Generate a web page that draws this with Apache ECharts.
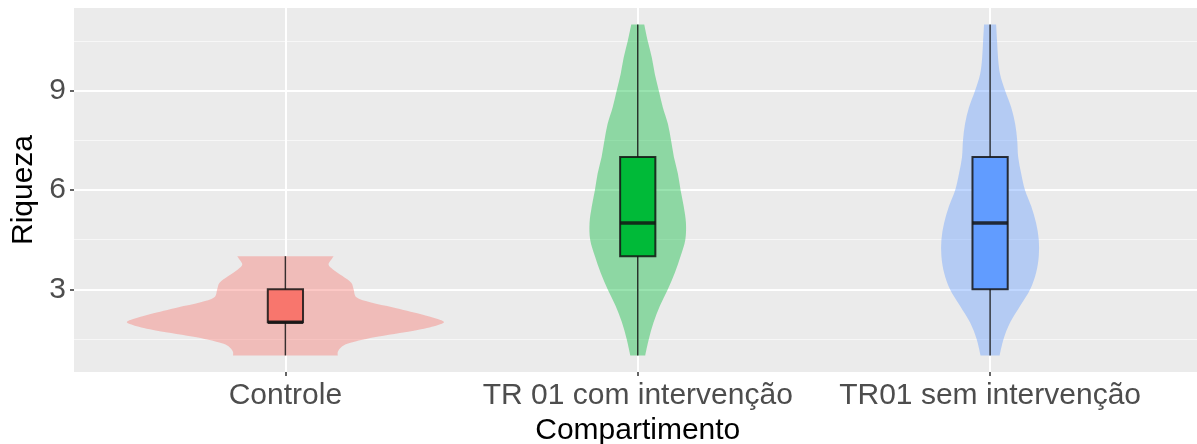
<!DOCTYPE html>
<html>
<head>
<meta charset="utf-8">
<script src="https://cdn.jsdelivr.net/npm/echarts@6/dist/echarts.min.js"></script>
<style>
  html, body { margin: 0; padding: 0; background: #ffffff; }
  #chart { width: 1197px; height: 444px; }
</style>
</head>
<body>
<div id="chart"></div>
<script>
// Groups along the x axis
const categories = ['Controle', 'TR 01 com intervenção', 'TR01 sem intervenção'];
const groupColors = ['#F8766D', '#00BA38', '#619CFF'];

// Box summaries: [min, Q1, median, Q3, max]
const boxControle = [1, 2, 2, 3, 4];
const boxCom = [1, 4, 5, 7, 11];
const boxSem = [1, 3, 5, 7, 11];

// Violin outlines: Riqueza levels and relative half-widths (widest violin = 1)
const violinControleY = [1.0, 1.15, 1.35, 1.55, 1.75, 1.9, 2.0, 2.1, 2.25, 2.45, 2.6, 2.75, 3.0, 3.2, 3.4, 3.6, 3.75, 3.9, 4.0];
const violinControleW = [0.33, 0.335, 0.39, 0.56, 0.81, 0.95, 1.0, 0.96, 0.85, 0.68, 0.54, 0.45, 0.43, 0.415, 0.36, 0.30, 0.272, 0.29, 0.304];

const violinComY = [1.0, 1.5, 2.0, 2.5, 3.0, 3.5, 4.0, 4.5, 5.0, 5.5, 6.0, 6.5, 7.0, 7.5, 8.0, 8.5, 9.0, 9.5, 10.0, 10.5, 11.0];
const violinComW = [0.047, 0.07, 0.10, 0.14, 0.19, 0.234, 0.27, 0.30, 0.304, 0.29, 0.27, 0.253, 0.228, 0.21, 0.19, 0.158, 0.133, 0.108, 0.089, 0.063, 0.041];

const violinSemY = [1.0, 1.5, 2.0, 2.5, 3.0, 3.5, 4.0, 4.5, 5.0, 5.5, 6.0, 6.5, 7.0, 7.5, 8.0, 8.5, 9.0, 9.5, 10.0, 10.5, 11.0];
const violinSemW = [0.06, 0.085, 0.127, 0.19, 0.253, 0.29, 0.307, 0.307, 0.29, 0.26, 0.22, 0.196, 0.177, 0.171, 0.158, 0.133, 0.095, 0.063, 0.05, 0.044, 0.038];

// Axis ticks
const yTickValues = [3, 6, 9];
const yMinorValues = [1.5, 4.5, 7.5, 10.5];
const xTickValues = [1, 2, 3];

const boxes = [boxControle, boxCom, boxSem];
const violinYs = [violinControleY, violinComY, violinSemY];
const violinWs = [violinControleW, violinComW, violinSemW];

const FONT = "'Liberation Sans', Arial, sans-serif";
const VIOLIN_HALF = 0.45;   // half of the 0.9 violin width, in category units
const BOX_HALF = 0.05;      // half of the 0.1 box width

function hexToRgba(hex, a) {
  const n = parseInt(hex.slice(1), 16);
  return 'rgba(' + ((n >> 16) & 255) + ',' + ((n >> 8) & 255) + ',' + (n & 255) + ',' + a + ')';
}

// Smooth path through points (Catmull-Rom converted to cubic Bezier)
function splineSegments(pts) {
  let d = '';
  for (let i = 0; i < pts.length - 1; i++) {
    const p0 = pts[Math.max(i - 1, 0)];
    const p1 = pts[i];
    const p2 = pts[i + 1];
    const p3 = pts[Math.min(i + 2, pts.length - 1)];
    const c1x = p1[0] + (p2[0] - p0[0]) / 6, c1y = p1[1] + (p2[1] - p0[1]) / 6;
    const c2x = p2[0] - (p3[0] - p1[0]) / 6, c2y = p2[1] - (p3[1] - p1[1]) / 6;
    d += ' C' + c1x + ',' + c1y + ' ' + c2x + ',' + c2y + ' ' + p2[0] + ',' + p2[1];
  }
  return d;
}

function renderViolin(params, api) {
  const i = params.dataIndex;
  const xv = api.value(0);
  const ys = violinYs[i], ws = violinWs[i];
  const unit = api.size([1, 0])[0];
  const cx = api.coord([xv, 0])[0];
  const left = [], right = [];
  for (let k = 0; k < ys.length; k++) {
    const py = api.coord([xv, ys[k]])[1];
    const hw = ws[k] * VIOLIN_HALF * unit;
    left.push([cx - hw, py]);
    right.push([cx + hw, py]);
  }
  const rightDown = right.slice().reverse();
  let d = 'M' + left[0][0] + ',' + left[0][1];
  d += splineSegments(left);
  d += ' L' + rightDown[0][0] + ',' + rightDown[0][1];
  d += splineSegments(rightDown);
  d += ' Z';
  return {
    type: 'path',
    shape: { pathData: d },
    style: { fill: hexToRgba(groupColors[i], 0.4) }
  };
}

function renderBox(params, api) {
  const i = params.dataIndex;
  const xv = api.value(0);
  const b = boxes[i];
  const unit = api.size([1, 0])[0];
  const cx = api.coord([xv, 0])[0];
  const yMin = api.coord([xv, b[0]])[1];
  const yQ1 = api.coord([xv, b[1]])[1];
  const yMed = api.coord([xv, b[2]])[1];
  const yQ3 = api.coord([xv, b[3]])[1];
  const yMax = api.coord([xv, b[4]])[1];
  const hw = BOX_HALF * unit;
  const edge = 'rgba(20,20,20,0.85)';
  return {
    type: 'group',
    children: [
      { type: 'line', shape: { x1: cx, y1: yMin, x2: cx, y2: yMax }, style: { stroke: edge, lineWidth: 1.5 } },
      { type: 'rect', shape: { x: cx - hw, y: yQ3, width: 2 * hw, height: yQ1 - yQ3 }, style: { fill: groupColors[i], stroke: edge, lineWidth: 2 } },
      { type: 'line', shape: { x1: cx - hw, y1: yMed, x2: cx + hw, y2: yMed }, style: { stroke: edge, lineWidth: 3.5 } }
    ]
  };
}

const groupData = categories.map((c, i) => [xTickValues[i]]);

const chart = echarts.init(document.getElementById('chart'), null, { renderer: 'canvas' });
chart.setOption({
  backgroundColor: '#ffffff',
  animation: false,
  grid: {
    left: 74, right: -4.5, top: 8, bottom: 72,
    containLabel: false,
    outerBoundsMode: 'none',
    show: true, backgroundColor: '#EBEBEB', borderWidth: 0
  },
  xAxis: {
    type: 'value',
    min: 0.4,
    max: 3.6,
    name: 'Compartimento',
    nameLocation: 'middle',
    nameGap: 43,
    nameTextStyle: { color: '#000000', fontSize: 30, fontFamily: FONT },
    axisLine: { show: false },
    axisTick: { show: true, length: 4, customValues: xTickValues, lineStyle: { color: '#333333', width: 1.5 } },
    axisLabel: {
      customValues: xTickValues,
      margin: 9,
      color: '#4D4D4D',
      fontSize: 30,
      fontFamily: FONT,
      formatter: v => categories[Math.round(v) - 1]
    },
    splitLine: { show: true, lineStyle: { color: '#ffffff', width: 2 } }
  },
  yAxis: [
    {
      type: 'value',
      min: 0.5,
      max: 11.5,
      name: 'Riqueza',
      nameLocation: 'middle',
      nameGap: 34,
      nameRotate: 90,
      nameTextStyle: { color: '#000000', fontSize: 30, fontFamily: FONT },
      axisLine: { show: false },
      axisTick: { show: true, length: 4, customValues: yTickValues, lineStyle: { color: '#333333', width: 1.5 } },
      axisLabel: { customValues: yTickValues, margin: 8, color: '#4D4D4D', fontSize: 30, fontFamily: FONT },
      splitLine: { show: true, lineStyle: { color: '#ffffff', width: 2 } }
    },
    {
      type: 'value',
      min: 0.5,
      max: 11.5,
      position: 'left',
      axisLine: { show: false },
      axisTick: { show: false, customValues: yMinorValues },
      axisLabel: { show: false, customValues: yMinorValues },
      splitLine: { show: true, lineStyle: { color: '#F7F7F7', width: 1 } }
    }
  ],
  series: [
    {
      type: 'custom',
      name: 'violin',
      renderItem: renderViolin,
      data: groupData,
      encode: { x: 0 },
      z: 2
    },
    {
      type: 'custom',
      name: 'box',
      renderItem: renderBox,
      data: groupData,
      encode: { x: 0 },
      z: 3
    }
  ]
});
</script>
</body>
</html>
